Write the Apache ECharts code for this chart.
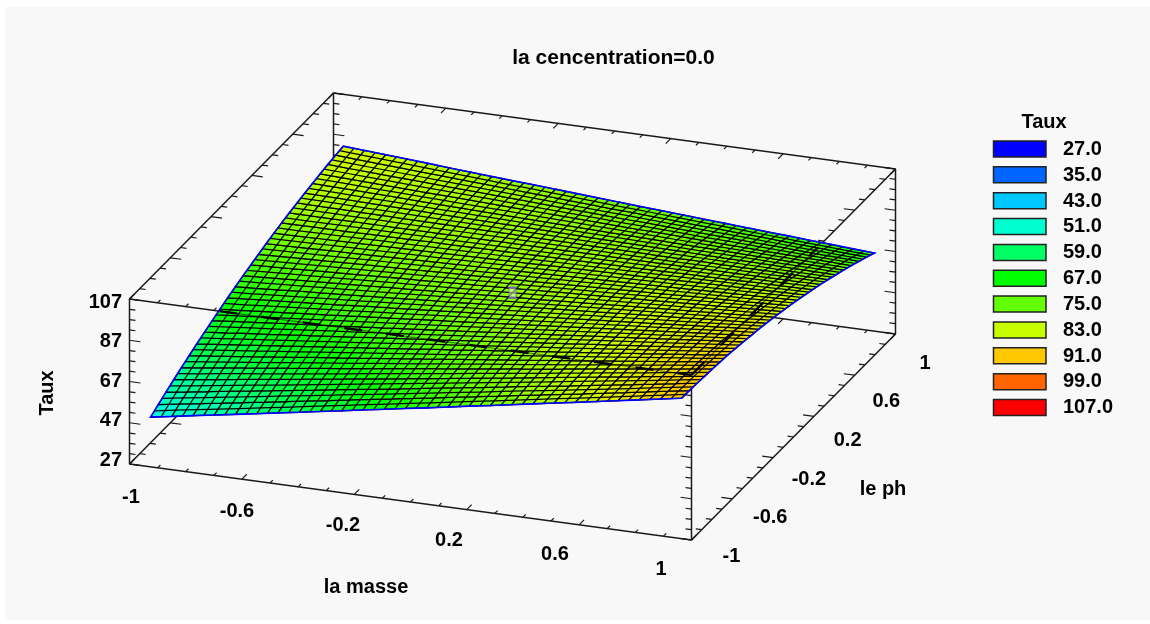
<!DOCTYPE html>
<html>
<head>
<meta charset="utf-8">
<style>html,body{margin:0;padding:0;background:#fff}#c{width:1150px;height:624px}</style>
<script src="https://cdn.jsdelivr.net/npm/echarts@6/dist/echarts.min.js"></script>
</head>
<body>
<div id="c"></div>
<script>
const titleText = 'la cencentration=0.0';
const massLabels = ['-1','-0.6','-0.2','0.2','0.6','1'];
const phLabels = ['-1','-0.6','-0.2','0.2','0.6','1'];
const tauxLabels = ['27','47','67','87','107'];
const legendValues = ['27.0','35.0','43.0','51.0','59.0','67.0','75.0','83.0','91.0','99.0','107.0'];
const legendColors = ['#0000ff','#0064ff','#00c8ff','#00ffd0','#00ff64','#00ff00','#64ff00','#c8ff00','#ffc800','#ff6400','#ff0000'];
const centerMarker = [0, 0, 78.5];
// Taux read from the surface: one row per "le ph" step (-1 .. 1), one column per "la masse" step (-1 .. 1)
const tauxGrid = [
[48.0,49.7,51.5,53.2,54.9,56.6,58.4,60.1,61.9,63.6,65.4,67.1,68.9,70.6,72.4,74.2,75.9,77.7,79.5,81.3,83.0,84.8,86.6,88.4,90.2,92.0],
[50.3,52.0,53.6,55.2,56.8,58.5,60.1,61.8,63.4,65.1,66.7,68.4,70.0,71.7,73.4,75.0,76.7,78.4,80.1,81.7,83.4,85.1,86.8,88.5,90.2,91.9],
[52.6,54.1,55.6,57.2,58.7,60.2,61.8,63.3,64.9,66.4,68.0,69.5,71.1,72.7,74.2,75.8,77.4,79.0,80.5,82.1,83.7,85.3,86.9,88.5,90.1,91.7],
[54.8,56.2,57.6,59.1,60.5,61.9,63.4,64.8,66.3,67.7,69.2,70.7,72.1,73.6,75.1,76.5,78.0,79.5,81.0,82.5,84.0,85.4,86.9,88.4,89.9,91.4],
[56.9,58.2,59.6,60.9,62.2,63.6,64.9,66.3,67.6,69.0,70.3,71.7,73.1,74.4,75.8,77.2,78.6,79.9,81.3,82.7,84.1,85.5,86.9,88.3,89.7,91.1],
[58.9,60.2,61.4,62.6,63.9,65.1,66.4,67.6,68.9,70.1,71.4,72.7,73.9,75.2,76.5,77.8,79.0,80.3,81.6,82.9,84.2,85.5,86.8,88.1,89.4,90.7],
[60.9,62.0,63.2,64.3,65.5,66.6,67.8,68.9,70.1,71.2,72.4,73.6,74.7,75.9,77.1,78.3,79.5,80.6,81.8,83.0,84.2,85.4,86.6,87.8,89.0,90.3],
[62.8,63.8,64.9,65.9,67.0,68.0,69.1,70.1,71.2,72.3,73.3,74.4,75.5,76.5,77.6,78.7,79.8,80.9,82.0,83.1,84.2,85.3,86.4,87.5,88.6,89.7],
[64.6,65.6,66.5,67.5,68.4,69.4,70.3,71.3,72.2,73.2,74.2,75.2,76.1,77.1,78.1,79.1,80.1,81.1,82.1,83.1,84.1,85.1,86.1,87.1,88.1,89.1],
[66.4,67.2,68.1,68.9,69.8,70.6,71.5,72.4,73.2,74.1,75.0,75.8,76.7,77.6,78.5,79.4,80.3,81.2,82.1,83.0,83.9,84.8,85.7,86.6,87.5,88.4],
[68.1,68.8,69.6,70.3,71.1,71.8,72.6,73.4,74.1,74.9,75.7,76.5,77.2,78.0,78.8,79.6,80.4,81.2,82.0,82.8,83.6,84.4,85.2,86.0,86.9,87.7],
[69.7,70.3,71.0,71.7,72.3,73.0,73.6,74.3,75.0,75.7,76.3,77.0,77.7,78.4,79.1,79.8,80.5,81.2,81.9,82.6,83.3,84.0,84.7,85.4,86.1,86.9],
[71.3,71.8,72.4,72.9,73.5,74.0,74.6,75.2,75.7,76.3,76.9,77.5,78.1,78.7,79.2,79.8,80.4,81.0,81.7,82.3,82.9,83.5,84.1,84.7,85.3,86.0],
[72.7,73.2,73.6,74.1,74.6,75.0,75.5,76.0,76.4,76.9,77.4,77.9,78.4,78.9,79.4,79.9,80.4,80.9,81.4,81.9,82.4,82.9,83.4,84.0,84.5,85.0],
[74.1,74.5,74.9,75.2,75.6,76.0,76.3,76.7,77.1,77.5,77.8,78.2,78.6,79.0,79.4,79.8,80.2,80.6,81.0,81.4,81.9,82.3,82.7,83.1,83.6,84.0],
[75.5,75.7,76.0,76.3,76.5,76.8,77.1,77.4,77.6,77.9,78.2,78.5,78.8,79.1,79.4,79.7,80.0,80.3,80.6,80.9,81.2,81.6,81.9,82.2,82.5,82.9],
[76.8,76.9,77.1,77.2,77.4,77.6,77.8,77.9,78.1,78.3,78.5,78.7,78.9,79.1,79.3,79.5,79.7,79.9,80.1,80.3,80.6,80.8,81.0,81.2,81.5,81.7],
[78.0,78.0,78.1,78.1,78.2,78.3,78.4,78.5,78.5,78.6,78.7,78.8,78.9,79.0,79.1,79.2,79.3,79.4,79.6,79.7,79.8,79.9,80.1,80.2,80.3,80.5],
[79.1,79.0,79.0,79.0,79.0,78.9,78.9,78.9,78.9,78.9,78.9,78.9,78.9,78.9,78.9,78.9,78.9,78.9,78.9,79.0,79.0,79.0,79.0,79.1,79.1,79.2],
[80.1,80.0,79.9,79.7,79.6,79.5,79.4,79.3,79.2,79.1,79.0,78.9,78.8,78.7,78.6,78.5,78.4,78.3,78.2,78.2,78.1,78.0,78.0,77.9,77.8,77.8],
[81.1,80.9,80.7,80.4,80.2,80.0,79.8,79.6,79.4,79.2,79.0,78.8,78.6,78.4,78.2,78.0,77.8,77.6,77.5,77.3,77.1,77.0,76.8,76.6,76.5,76.3],
[82.0,81.7,81.4,81.1,80.8,80.4,80.1,79.8,79.5,79.2,78.9,78.6,78.3,78.0,77.7,77.5,77.2,76.9,76.6,76.4,76.1,75.8,75.6,75.3,75.1,74.8],
[82.9,82.5,82.0,81.6,81.2,80.8,80.4,80.0,79.6,79.2,78.8,78.4,78.0,77.6,77.2,76.8,76.5,76.1,75.7,75.3,75.0,74.6,74.3,73.9,73.6,73.2],
[83.7,83.1,82.6,82.1,81.6,81.1,80.6,80.1,79.6,79.1,78.6,78.1,77.6,77.1,76.6,76.2,75.7,75.2,74.7,74.3,73.8,73.4,72.9,72.4,72.0,71.5],
[84.4,83.7,83.1,82.5,81.9,81.3,80.7,80.1,79.5,78.9,78.3,77.7,77.1,76.5,76.0,75.4,74.8,74.2,73.7,73.1,72.6,72.0,71.4,70.9,70.3,69.8],
[85.0,84.3,83.6,82.9,82.2,81.4,80.7,80.0,79.3,78.7,78.0,77.3,76.6,75.9,75.2,74.6,73.9,73.2,72.6,71.9,71.2,70.6,69.9,69.3,68.6,68.0]
];

// Axonometric view: the box corners in the page plane
const ORIGIN = [129.5, 464], EX = [562, 76], EY = [204, -206], EZ = -165;
const SURFACE_INSET = 0.945;
const FONT = 'bold 20px "Liberation Sans", Arial, sans-serif';
const N = tauxGrid.length - 1;

function project(m, p, z) {
  const u = (m + 1) / 2, v = (p + 1) / 2, h = (z - 27) / 80;
  return [ORIGIN[0] + u * EX[0] + v * EY[0], ORIGIN[1] + u * EX[1] + v * EY[1] + h * EZ];
}
function surfacePoint(i, j) {
  return project((-1 + 2 * i / N) * SURFACE_INSET, (-1 + 2 * j / N) * SURFACE_INSET, tauxGrid[j][i]);
}
const mid = (a, b) => [(a[0] + b[0]) / 2, (a[1] + b[1]) / 2];

// Box edges: a -> b, with 'dir' the inward tick direction and 'n' tick intervals
const exU = [EX[0] / Math.hypot(EX[0], EX[1]), EX[1] / Math.hypot(EX[0], EX[1])];
const eyU = [EY[0] / Math.hypot(EY[0], EY[1]), EY[1] / Math.hypot(EY[0], EY[1])];
const edges = [
  {a:[-1,-1,27], b:[1,-1,27],  dir:eyU, s:1,  n:20, mi:4, ma:7},
  {a:[-1,-1,107],b:[1,-1,107], dir:eyU, s:1,  n:20, mi:4, ma:7},
  {a:[-1,1,27],  b:[1,1,27],   dir:eyU, s:-1, n:20, mi:4, ma:7},
  {a:[-1,1,107], b:[1,1,107],  dir:eyU, s:-1, n:20, mi:4, ma:7},
  {a:[-1,-1,27], b:[-1,1,27],  dir:exU, s:1,  n:20, mi:6, ma:11},
  {a:[-1,-1,107],b:[-1,1,107], dir:exU, s:1,  n:20, mi:6, ma:11},
  {a:[1,-1,27],  b:[1,1,27],   dir:exU, s:-1, n:20, mi:6, ma:11},
  {a:[1,-1,107], b:[1,1,107],  dir:exU, s:-1, n:20, mi:6, ma:11},
  {a:[-1,-1,27], b:[-1,-1,107],dir:exU, s:1,  n:16, mi:6, ma:11},
  {a:[-1,1,27],  b:[-1,1,107], dir:exU, s:1,  n:16, mi:6, ma:11},
  {a:[1,-1,27],  b:[1,-1,107], dir:exU, s:-1, n:16, mi:6, ma:11},
  {a:[1,1,27],   b:[1,1,107],  dir:exU, s:-1, n:16, mi:6, ma:11}
];

const axisStroke = {stroke:'#1a1a1a', lineWidth:1.5};
function renderEdge(params, api) {
  const e = edges[params.dataIndex];
  const A = api.coord(project(...e.a)), B = api.coord(project(...e.b));
  const children = [{type:'line', shape:{x1:A[0],y1:A[1],x2:B[0],y2:B[1]}, style:axisStroke}];
  for (let k = 0; k <= e.n; k++) {
    const t = k / e.n, x = A[0] + (B[0]-A[0])*t, y = A[1] + (B[1]-A[1])*t;
    const len = (k % 4 === 0 ? e.ma : e.mi) * e.s;
    children.push({type:'line', shape:{x1:x,y1:y,x2:x+e.dir[0]*len,y2:y+e.dir[1]*len}, style:{stroke:'#1a1a1a',lineWidth:1.2}});
  }
  return {type:'group', children};
}

const cells = [];
for (let j = 0; j < N; j++) for (let i = 0; i < N; i++) {
  cells.push([i, j, (tauxGrid[j][i] + tauxGrid[j][i+1] + tauxGrid[j+1][i] + tauxGrid[j+1][i+1]) / 4]);
}
const meshStroke = {stroke:'#000', lineWidth:1.25};
function renderCell(params, api) {
  const i = api.value(0), j = api.value(1);
  const p00 = api.coord(surfacePoint(i,j)), p10 = api.coord(surfacePoint(i+1,j));
  const p11 = api.coord(surfacePoint(i+1,j+1)), p01 = api.coord(surfacePoint(i,j+1));
  const color = api.visual('color');
  const a = mid(p00,p10), b = mid(p01,p11), c = mid(p00,p01), d = mid(p10,p11);
  return {type:'group', children:[
    {type:'polygon', shape:{points:[p00,p10,p11,p01]}, style:{fill:color, stroke:'#000', lineWidth:1.25}},
    {type:'line', shape:{x1:a[0],y1:a[1],x2:b[0],y2:b[1]}, style:meshStroke},
    {type:'line', shape:{x1:c[0],y1:c[1],x2:d[0],y2:d[1]}, style:meshStroke}
  ]};
}
function renderOutline(params, api) {
  const pts = [];
  for (let i = 0; i <= N; i++) pts.push(api.coord(surfacePoint(i,0)));
  for (let j = 1; j <= N; j++) pts.push(api.coord(surfacePoint(N,j)));
  for (let i = N-1; i >= 0; i--) pts.push(api.coord(surfacePoint(i,N)));
  for (let j = N-1; j >= 0; j--) pts.push(api.coord(surfacePoint(0,j)));
  return {type:'polygon', shape:{points:pts}, style:{fill:'none', stroke:'#0000ff', lineWidth:1.6}};
}
// the two near top box edges, showing through the surface as dark streaks
function renderStreaks(params, api) {
  const lines = [
    {a:[-1,-1,107], b:[1,-1,107], from:0.16, to:1},
    {a:[1,-1,107], b:[1,1,107], from:0, to:0.62}
  ];
  const children = [];
  lines.forEach(l => {
    const A = api.coord(project(...l.a)), B = api.coord(project(...l.b));
    const sh = {
      x1:A[0]+(B[0]-A[0])*l.from, y1:A[1]+(B[1]-A[1])*l.from,
      x2:A[0]+(B[0]-A[0])*l.to,   y2:A[1]+(B[1]-A[1])*l.to
    };
    children.push({type:'line', shape:sh, style:{stroke:'rgba(0,0,0,0.5)', lineWidth:1.2}});
    children.push({type:'line', shape:sh, style:{stroke:'#000', lineWidth:2.4, lineDash:[18,24]}});
  });
  return {type:'group', children};
}

// text items placed in the page plane
const textItems = [];
massLabels.forEach((t,k) => { const f = k/(massLabels.length-1);
  textItems.push({t, x:131+530*f, y:497+72*f, align:'center'}); });
phLabels.forEach((t,k) => { const f = k/(phLabels.length-1);
  textItems.push({t, x:731.5+193.5*f, y:556.7-193.7*f, align:'center'}); });
tauxLabels.forEach((t,k) => { const f = k/(tauxLabels.length-1);
  textItems.push({t, x:122, y:460-158*f, align:'right'}); });
textItems.push({t:'la masse', x:366, y:587, align:'center'});
textItems.push({t:'le ph', x:883, y:489, align:'center'});
function renderText(params, api) {
  const it = textItems[params.dataIndex], c = api.coord([it.x, it.y]);
  return {type:'text', style:{x:c[0], y:c[1], text:it.t, font:FONT, fill:'#000', textAlign:it.align, textVerticalAlign:'middle'}};
}
function renderLegendItem(params, api) {
  const k = params.dataIndex, top = 141 + 25.85 * k;
  const c = api.coord([993.5, top]), t = api.coord([1063, top + 8.3]);
  return {type:'group', children:[
    {type:'rect', shape:{x:c[0], y:c[1], width:52.5, height:16}, style:{fill:legendColors[k], stroke:'#222', lineWidth:1.5}},
    {type:'text', style:{x:t[0], y:t[1], text:legendValues[k], font:FONT, fill:'#000', textAlign:'left', textVerticalAlign:'middle'}}
  ]};
}

const chart = echarts.init(document.getElementById('c'), null, {renderer:'canvas', width:1150, height:624});
chart.setOption({
  animation:false,
  backgroundColor:'#ffffff',
  title:{text:titleText, left:608.5, top:43, textAlign:'center',
    textStyle:{fontFamily:'"Liberation Sans", Arial, sans-serif', fontWeight:'bold', fontSize:21, color:'#000'}},
  grid:{left:0, right:0, top:0, bottom:0, containLabel:false},
  xAxis:{type:'value', min:0, max:1150, show:false},
  yAxis:{type:'value', min:0, max:624, inverse:true, show:false},
  graphic:[
    {type:'rect', z:-10, silent:true, shape:{x:5, y:7, width:1145, height:613}, style:{fill:'#f8f8f8'}},
    {type:'text', z:10, silent:true, x:47, y:393, rotation:Math.PI/2, style:{text:'Taux', font:FONT, fill:'#000', textAlign:'center', textVerticalAlign:'middle'}},
    {type:'text', z:10, silent:true, x:1044, y:122, style:{text:'Taux', font:FONT, fill:'#000', textAlign:'center', textVerticalAlign:'middle'}}
  ],
  visualMap:{show:false, type:'continuous', min:27, max:107, dimension:2, seriesIndex:1, inRange:{color:legendColors}},
  series:[
    {type:'custom', z:1, coordinateSystem:'cartesian2d', silent:true, renderItem:renderEdge, data:edges.map((e,k)=>[k]), clip:false},
    {type:'custom', z:2, coordinateSystem:'cartesian2d', silent:true, renderItem:renderCell, data:cells, clip:false},
    {type:'custom', z:3, coordinateSystem:'cartesian2d', silent:true, renderItem:renderOutline, data:[[0]], clip:false},
    {type:'custom', z:4, coordinateSystem:'cartesian2d', silent:true, renderItem:renderStreaks, data:[[0]], clip:false},
    {type:'scatter', z:5, silent:true, symbol:'rect', symbolSize:[7,11], data:[project(...centerMarker)],
      itemStyle:{color:'rgba(255,255,255,0.55)', borderColor:'#6a4fd0', borderWidth:1.2}},
    {type:'custom', z:6, coordinateSystem:'cartesian2d', silent:true, renderItem:renderText, data:textItems.map((e,k)=>[k]), clip:false},
    {type:'custom', z:6, coordinateSystem:'cartesian2d', silent:true, renderItem:renderLegendItem, data:legendValues.map((e,k)=>[k]), clip:false}
  ]
});
</script>
</body>
</html>
